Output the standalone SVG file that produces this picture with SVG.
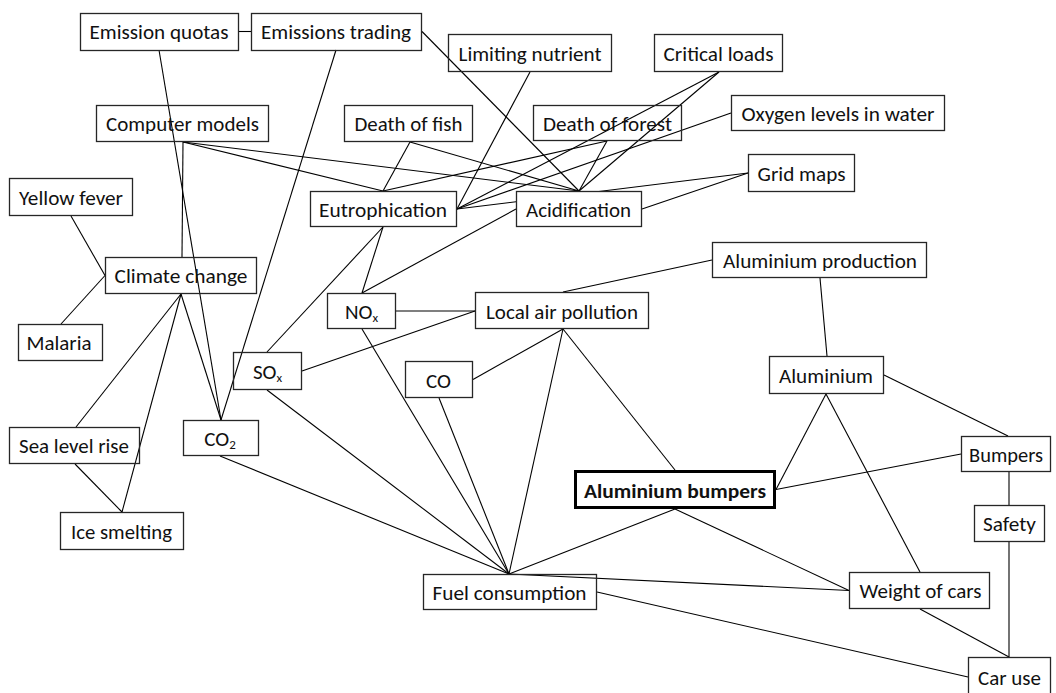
<svg xmlns="http://www.w3.org/2000/svg" width="1056" height="693" viewBox="0 0 1056 693">
  <style>
    .box { fill: none; stroke: #262626; stroke-width: 1.3; }
    .solid { fill: #ffffff; }
    .key { fill: none; stroke: #000000; stroke-width: 3; }
    .lbl { font-family: Carlito, Lato, "Liberation Sans", sans-serif; font-size: 21px; fill: #111111; text-anchor: middle; }
    .bold { font-weight: bold; }
    .sub { font-size: 13px; }
    #connectors line { stroke: #000000; stroke-width: 1.1; }
  </style>
  <rect width="1056" height="693" fill="#ffffff"/>

  <!-- connectors first; most boxes are unfilled so lines show through them -->
  <g id="connectors">
    <line x1="239" y1="31.5" x2="251" y2="31.5"/>
    <line x1="159" y1="50" x2="221" y2="420"/>
    <line x1="336" y1="50" x2="221" y2="420"/>
    <line x1="422" y1="31.5" x2="579" y2="191"/>
    <line x1="183" y1="142" x2="182" y2="257"/>
    <line x1="183" y1="142" x2="383" y2="191"/>
    <line x1="183" y1="142" x2="579" y2="191"/>
    <line x1="410" y1="142" x2="383" y2="191"/>
    <line x1="410" y1="142" x2="579" y2="191"/>
    <line x1="607" y1="141" x2="383" y2="191"/>
    <line x1="607" y1="141" x2="579" y2="191"/>
    <line x1="530" y1="72" x2="457" y2="209"/>
    <line x1="719" y1="72" x2="457" y2="209"/>
    <line x1="719" y1="72" x2="579" y2="191"/>
    <line x1="731" y1="113" x2="457" y2="209"/>
    <line x1="748" y1="173" x2="457" y2="209"/>
    <line x1="748" y1="173" x2="642" y2="209"/>
    <line x1="516" y1="209" x2="362" y2="293"/>
    <line x1="383" y1="227" x2="362" y2="293"/>
    <line x1="383" y1="227" x2="267" y2="352"/>
    <line x1="396" y1="311" x2="475" y2="311"/>
    <line x1="475" y1="311" x2="302" y2="371"/>
    <line x1="362" y1="329" x2="509" y2="574"/>
    <line x1="267" y1="390" x2="509" y2="574"/>
    <line x1="439" y1="398" x2="509" y2="574"/>
    <line x1="473" y1="379.5" x2="563" y2="329"/>
    <line x1="563" y1="329" x2="509" y2="574"/>
    <line x1="563" y1="329" x2="675" y2="470"/>
    <line x1="563" y1="292" x2="712" y2="260"/>
    <line x1="820" y1="278" x2="827" y2="356"/>
    <line x1="884" y1="375" x2="1008" y2="436"/>
    <line x1="826" y1="394" x2="776" y2="489.5"/>
    <line x1="826" y1="394" x2="920" y2="572"/>
    <line x1="961" y1="454" x2="776" y2="489.5"/>
    <line x1="1009" y1="472" x2="1009" y2="505"/>
    <line x1="1009" y1="542" x2="1009" y2="657"/>
    <line x1="920" y1="609" x2="1009" y2="657"/>
    <line x1="597" y1="592" x2="968" y2="677"/>
    <line x1="509" y1="574" x2="849" y2="590.5"/>
    <line x1="675" y1="509" x2="509" y2="574"/>
    <line x1="675" y1="509" x2="849" y2="590.5"/>
    <line x1="220" y1="456" x2="509" y2="574"/>
    <line x1="181" y1="294" x2="221" y2="420"/>
    <line x1="181" y1="294" x2="76" y2="427"/>
    <line x1="181" y1="294" x2="122" y2="512"/>
    <line x1="75" y1="464" x2="122" y2="512"/>
    <line x1="71" y1="216" x2="105" y2="275.5"/>
    <line x1="61" y1="324" x2="105" y2="275.5"/>
  </g>

  <g id="emission-quotas">
    <rect class="box" x="80.5" y="13.5" width="158" height="37"/>
    <text class="lbl" x="159" y="39" textLength="139" lengthAdjust="spacingAndGlyphs">Emission quotas</text>
  </g>
  <g id="emissions-trading">
    <rect class="box" x="251.5" y="13.5" width="170" height="37"/>
    <text class="lbl" x="336" y="39" textLength="150" lengthAdjust="spacingAndGlyphs">Emissions trading</text>
  </g>
  <g id="limiting-nutrient">
    <rect class="box" x="448.5" y="34.5" width="163" height="37"/>
    <text class="lbl" x="530" y="60.5" textLength="143" lengthAdjust="spacingAndGlyphs">Limiting nutrient</text>
  </g>
  <g id="critical-loads">
    <rect class="box" x="654.5" y="34.5" width="128" height="37"/>
    <text class="lbl" x="718.5" y="60.5" textLength="110" lengthAdjust="spacingAndGlyphs">Critical loads</text>
  </g>
  <g id="computer-models">
    <rect class="box" x="96.5" y="105.5" width="172" height="36"/>
    <text class="lbl" x="182.5" y="131" textLength="153" lengthAdjust="spacingAndGlyphs">Computer models</text>
  </g>
  <g id="death-of-fish">
    <rect class="box" x="344.5" y="105.5" width="128" height="36"/>
    <text class="lbl" x="408.5" y="131" textLength="108" lengthAdjust="spacingAndGlyphs">Death of fish</text>
  </g>
  <g id="death-of-forest">
    <rect class="box" x="533.5" y="105.5" width="148" height="35"/>
    <text class="lbl" x="607.5" y="130.5" textLength="129" lengthAdjust="spacingAndGlyphs">Death of forest</text>
  </g>
  <g id="oxygen-levels">
    <rect class="box" x="731.5" y="95.5" width="213" height="35"/>
    <text class="lbl" x="838" y="120.5" textLength="193" lengthAdjust="spacingAndGlyphs">Oxygen levels in water</text>
  </g>
  <g id="grid-maps">
    <rect class="box" x="748.5" y="154.5" width="106" height="37"/>
    <text class="lbl" x="801.5" y="180.5" textLength="88" lengthAdjust="spacingAndGlyphs">Grid maps</text>
  </g>
  <g id="yellow-fever">
    <rect class="box" x="9.5" y="178.5" width="123" height="37"/>
    <text class="lbl" x="71" y="204.5" textLength="104" lengthAdjust="spacingAndGlyphs">Yellow fever</text>
  </g>
  <g id="eutrophication">
    <rect class="box" x="310.5" y="191.5" width="146" height="35"/>
    <text class="lbl" x="383" y="216.5" textLength="128" lengthAdjust="spacingAndGlyphs">Eutrophication</text>
  </g>
  <g id="acidification">
    <rect class="box solid" x="516.5" y="191.5" width="125" height="35"/>
    <text class="lbl" x="578.5" y="216.5" textLength="105" lengthAdjust="spacingAndGlyphs">Acidification</text>
  </g>
  <g id="aluminium-production">
    <rect class="box" x="712.5" y="242.5" width="214" height="35"/>
    <text class="lbl" x="820" y="267.5" textLength="194" lengthAdjust="spacingAndGlyphs">Aluminium production</text>
  </g>
  <g id="climate-change">
    <rect class="box" x="105.5" y="257.5" width="151" height="36"/>
    <text class="lbl" x="181" y="283" textLength="133" lengthAdjust="spacingAndGlyphs">Climate change</text>
  </g>
  <g id="nox">
    <rect class="box" x="327.5" y="293.5" width="68" height="35"/>
    <text class="lbl" x="361.5" y="319">NO<tspan class="sub" dy="3">x</tspan></text>
  </g>
  <g id="local-air-pollution">
    <rect class="box" x="475.5" y="292.5" width="173" height="36"/>
    <text class="lbl" x="562" y="318.5" textLength="152" lengthAdjust="spacingAndGlyphs">Local air pollution</text>
  </g>
  <g id="malaria">
    <rect class="box" x="18.5" y="324.5" width="84" height="36"/>
    <text class="lbl" x="59" y="349.5" textLength="65" lengthAdjust="spacingAndGlyphs">Malaria</text>
  </g>
  <g id="sox">
    <rect class="box" x="233.5" y="352.5" width="68" height="37"/>
    <text class="lbl" x="267.5" y="378.5">SO<tspan class="sub" dy="3">x</tspan></text>
  </g>
  <g id="co">
    <rect class="box" x="405.5" y="361.5" width="67" height="36"/>
    <text class="lbl" x="438.5" y="387.5" textLength="25" lengthAdjust="spacingAndGlyphs">CO</text>
  </g>
  <g id="aluminium">
    <rect class="box" x="769.5" y="356.5" width="114" height="37"/>
    <text class="lbl" x="826" y="382.5" textLength="94" lengthAdjust="spacingAndGlyphs">Aluminium</text>
  </g>
  <g id="co2">
    <rect class="box" x="183.5" y="420.5" width="75" height="35"/>
    <text class="lbl" x="220" y="445.5">CO<tspan class="sub" dy="3">2</tspan></text>
  </g>
  <g id="sea-level-rise">
    <rect class="box" x="9.5" y="427.5" width="130" height="36"/>
    <text class="lbl" x="74" y="452.5" textLength="110" lengthAdjust="spacingAndGlyphs">Sea level rise</text>
  </g>
  <g id="bumpers">
    <rect class="box" x="961.5" y="436.5" width="89" height="35"/>
    <text class="lbl" x="1006" y="461.5" textLength="74" lengthAdjust="spacingAndGlyphs">Bumpers</text>
  </g>
  <g id="aluminium-bumpers">
    <rect class="key" x="575.5" y="471.5" width="199" height="36"/>
    <text class="lbl bold" x="675" y="497.5" textLength="182" lengthAdjust="spacingAndGlyphs">Aluminium bumpers</text>
  </g>
  <g id="safety">
    <rect class="box" x="974.5" y="505.5" width="70" height="36"/>
    <text class="lbl" x="1009.5" y="531" textLength="53" lengthAdjust="spacingAndGlyphs">Safety</text>
  </g>
  <g id="ice-smelting">
    <rect class="box" x="60.5" y="512.5" width="123" height="37"/>
    <text class="lbl" x="121.5" y="538.5" textLength="101" lengthAdjust="spacingAndGlyphs">Ice smelting</text>
  </g>
  <g id="fuel-consumption">
    <rect class="box" x="423.5" y="574.5" width="173" height="35"/>
    <text class="lbl" x="509.5" y="599.5" textLength="154" lengthAdjust="spacingAndGlyphs">Fuel consumption</text>
  </g>
  <g id="weight-of-cars">
    <rect class="box" x="849.5" y="572.5" width="140" height="36"/>
    <text class="lbl" x="920.5" y="598" textLength="122" lengthAdjust="spacingAndGlyphs">Weight of cars</text>
  </g>
  <g id="car-use">
    <rect class="box" x="968.5" y="657.5" width="82" height="40"/>
    <text class="lbl" x="1009.5" y="684.5" textLength="63" lengthAdjust="spacingAndGlyphs">Car use</text>
  </g>
</svg>
